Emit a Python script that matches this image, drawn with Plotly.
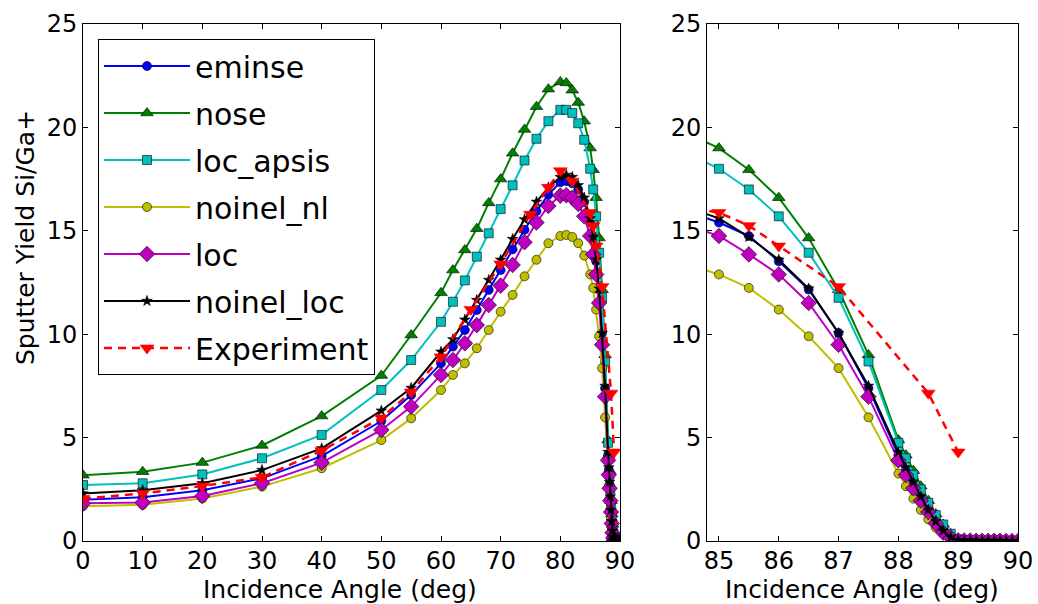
import plotly.graph_objects as go

# ---------------- data ----------------
angle_sim = [0, 10, 20, 30, 40, 50, 55, 60, 62, 64, 66, 68, 70, 72, 74, 76, 78, 80, 81, 82, 83, 84,
             85, 85.5, 86, 86.5, 87, 87.5, 88,
             88.125, 88.25, 88.375, 88.5, 88.625, 88.75, 88.875, 89,
             89.1, 89.2, 89.3, 89.4, 89.5, 89.6, 89.7, 89.8, 89.9, 90.0]

eminse = [2.00, 2.12, 2.45, 3.03, 4.10, 5.80, 7.06, 8.59, 9.40, 10.20, 11.17, 12.14, 13.10, 14.10, 15.05, 15.95, 16.75, 17.35, 17.40, 17.30, 17.00, 16.40,
          15.40, 14.75, 13.53, 12.16, 10.06, 7.39, 4.15,
          3.45, 2.75, 2.05, 1.45, 0.90, 0.45, 0.15, 0.03,
          0.02, 0.02, 0.01, 0.01, 0.01, 0.01, 0.01, 0.0, 0.0, 0.0]

nose = [3.18, 3.35, 3.79, 4.62, 6.04, 8.00, 9.96, 12.00, 13.10, 14.07, 15.10, 16.35, 17.50, 18.75, 19.90, 21.00, 21.85, 22.20, 22.15, 21.80, 21.20, 20.30,
        19.00, 17.95, 16.60, 14.65, 12.15, 9.00, 4.88,
        4.15, 3.40, 2.65, 1.95, 1.30, 0.80, 0.35, 0.08,
        0.03, 0.02, 0.02, 0.01, 0.01, 0.01, 0.01, 0.0, 0.0, 0.0]

loc_apsis = [2.71, 2.79, 3.22, 4.00, 5.13, 7.30, 8.75, 10.60, 11.57, 12.60, 13.75, 14.88, 16.05, 17.20, 18.40, 19.45, 20.30, 20.85, 20.85, 20.70, 20.20, 19.40,
             18.00, 17.00, 15.70, 13.94, 11.76, 8.68, 4.75,
             4.00, 3.20, 2.50, 1.85, 1.25, 0.80, 0.35, 0.08,
             0.03, 0.02, 0.02, 0.01, 0.01, 0.01, 0.01, 0.0, 0.0, 0.0]

noinel_nl = [1.68, 1.75, 2.06, 2.63, 3.52, 4.88, 5.93, 7.30, 8.03, 8.59, 9.32, 10.20, 11.09, 11.90, 12.80, 13.60, 14.40, 14.75, 14.80, 14.70, 14.40, 13.80,
             12.89, 12.24, 11.19, 9.90, 8.36, 5.98, 3.26,
             2.65, 2.05, 1.50, 1.05, 0.65, 0.35, 0.12, 0.02,
             0.01, 0.01, 0.01, 0.01, 0.0, 0.0, 0.0, 0.0, 0.0, 0.0]

loc = [1.82, 1.86, 2.18, 2.79, 3.79, 5.37, 6.50, 8.03, 8.75, 9.56, 10.44, 11.41, 12.35, 13.35, 14.45, 15.40, 16.20, 16.70, 16.72, 16.60, 16.30, 15.70,
       14.75, 13.86, 12.89, 11.51, 9.49, 6.98, 3.90,
       3.20, 2.55, 1.95, 1.40, 0.85, 0.40, 0.15, 0.03,
       0.02, 0.02, 0.01, 0.01, 0.01, 0.01, 0.01, 0.0, 0.0, 0.0]

noinel_loc = [2.30, 2.45, 2.79, 3.43, 4.48, 6.30, 7.40, 9.15, 9.75, 10.70, 11.65, 12.62, 13.60, 14.60, 15.55, 16.40, 17.10, 17.60, 17.70, 17.60, 17.20, 16.60,
              15.60, 14.70, 13.60, 12.20, 10.05, 7.50, 4.30,
              3.55, 2.85, 2.15, 1.50, 0.95, 0.50, 0.18, 0.04,
              0.02, 0.02, 0.01, 0.01, 0.01, 0.01, 0.0, 0.0, 0.0, 0.0]

angle_exp = [0, 10, 20, 30, 40, 50, 55, 60, 65, 70, 75, 78, 80, 82, 85, 85.5, 86, 87, 88.5, 89]
experiment = [2.05, 2.30, 2.66, 3.08, 4.37, 5.95, 7.20, 8.90, 11.20, 13.40, 15.80, 17.10, 17.90, 17.40,
              15.88, 15.25, 14.26, 12.30, 7.15, 4.30]

left_xticks = [0, 10, 20, 30, 40, 50, 60, 70, 80, 90]
right_xticks = [85, 86, 87, 88, 89, 90]
yticks = [0, 5, 10, 15, 20, 25]

# ---------------- styles ----------------
series = [
    ("eminse", eminse, "#0000ff", "circle", 9, "solid"),
    ("nose", nose, "#008000", "triangle-up", 11, "solid"),
    ("loc_apsis", loc_apsis, "#00bfbf", "square", 9, "solid"),
    ("noinel_nl", noinel_nl, "#bfbf00", "circle", 9, "solid"),
    ("loc", loc, "#bf00bf", "diamond", 12, "solid"),
    ("noinel_loc", noinel_loc, "#000000", "star", 8, "solid"),
]

W, H = 1038, 604
FONT = "DejaVu Sans"

fig = go.Figure()

for panel, (xa, ya) in enumerate([("x", "y"), ("x2", "y2")]):
    for name, vals, col, sym, size, dash in series:
        fig.add_trace(go.Scatter(
            x=angle_sim, y=vals, name=name, mode="lines+markers",
            xaxis=xa, yaxis=ya, legendgroup=name, showlegend=(panel == 0),
            line=dict(color=col, width=2, dash=dash),
            marker=dict(symbol=sym, size=size, color=col, line=dict(color="black", width=0.6)),
        ))
    fig.add_trace(go.Scatter(
        x=angle_exp, y=experiment, name="Experiment", mode="lines+markers",
        xaxis=xa, yaxis=ya, legendgroup="Experiment", showlegend=(panel == 0),
        line=dict(color="#ff0000", width=2.5, dash="8px,6px"),
        marker=dict(symbol="triangle-down", size=12, color="#ff0000", line=dict(color="#ff0000", width=0.6)),
    ))

ydom = [1 - 541 / H, 1 - 24 / H]
axis_common = dict(
    showline=True, linecolor="black", linewidth=1, mirror="ticks",
    ticks="inside", ticklen=5, tickcolor="black", tickwidth=1,
    showgrid=False, zeroline=False, automargin=False,
    tickfont=dict(family=FONT, size=24, color="black"),
)

fig.update_layout(
    width=W, height=H, autosize=False,
    margin=dict(l=0, r=0, t=0, b=0, autoexpand=False),
    paper_bgcolor="white", plot_bgcolor="white",
    font=dict(family=FONT, color="black"),
    xaxis=dict(domain=[83 / W, 620 / W], range=[0, 90], tickvals=left_xticks, anchor="y",
               ticklabelstandoff=-2, **axis_common),
    yaxis=dict(domain=ydom, range=[0, 25], tickvals=yticks, anchor="x", **axis_common),
    xaxis2=dict(domain=[707 / W, 1018 / W], range=[84.8, 90], tickvals=right_xticks, anchor="y2",
                ticklabelstandoff=-2, **axis_common),
    yaxis2=dict(domain=ydom, range=[0, 25], tickvals=yticks, anchor="x2", **axis_common),
    legend=dict(
        x=98 / W, y=1 - 39 / H, xanchor="left", yanchor="top",
        bgcolor="white", bordercolor="black", borderwidth=1,
        font=dict(family=FONT, size=30, color="black"),
        traceorder="grouped", tracegroupgap=5, itemwidth=86,
    ),
    showlegend=True,
    annotations=[
        dict(text="Sputter Yield Si/Ga+", x=25 / W, y=1 - 238 / H, xref="paper", yref="paper",
             textangle=-90, showarrow=False, xanchor="center", yanchor="middle",
             font=dict(family=FONT, size=25, color="black")),
        dict(text="Incidence Angle (deg)", x=340 / W, y=1 - 589 / H, xref="paper", yref="paper",
             showarrow=False, xanchor="center", yanchor="middle",
             font=dict(family=FONT, size=25, color="black")),
        dict(text="Incidence Angle (deg)", x=862 / W, y=1 - 589 / H, xref="paper", yref="paper",
             showarrow=False, xanchor="center", yanchor="middle",
             font=dict(family=FONT, size=25, color="black")),
    ],
)

fig.write_html("out.html")
